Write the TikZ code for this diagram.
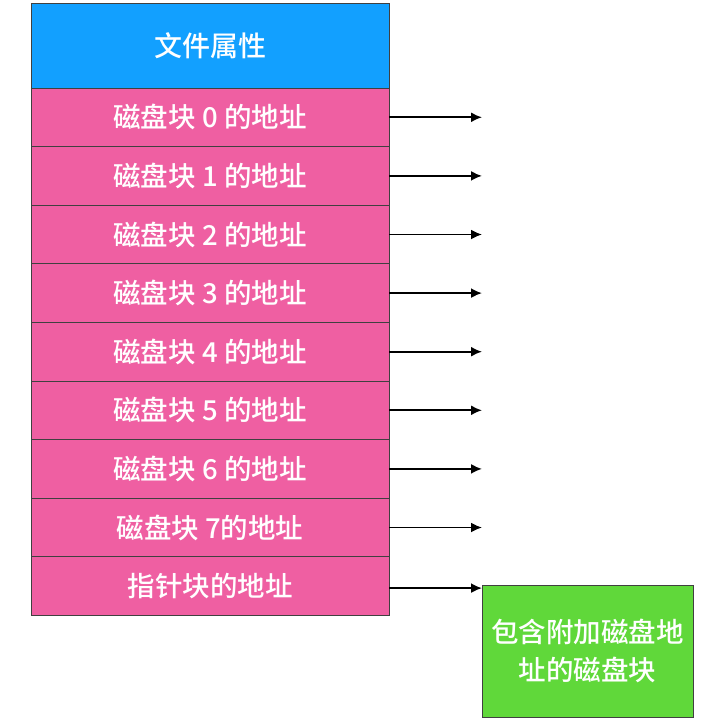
\documentclass[tikz,border=0pt]{standalone}
\usepackage{fontspec}
\setmainfont{Noto Sans CJK SC}[UprightFont=* Medium]
\usetikzlibrary{positioning,arrows.meta}
\definecolor{attrblue}{RGB}{18,160,255}
\definecolor{diskpink}{RGB}{239,95,162}
\definecolor{extragreen}{RGB}{96,216,58}

\begin{document}
\begin{tikzpicture}
		[x=1pt,y=-1pt,
		cell/.style={draw=black!75,line width=0.8pt,fill=diskpink,text=white,
			minimum width=358pt,minimum height=58.6pt,inner sep=0pt,outer sep=0pt,
			font=\fontsize{27.5}{30}\selectfont},
		ptr/.style={-{Latex[length=11pt,width=10pt]},line width=1.8pt}]
		\useasboundingbox (0,0) rectangle (706,720);
		% inode table
		\node[cell,fill=attrblue,minimum height=85pt,anchor=north west,
			font=\fontsize{28}{30}\selectfont] (attr) at (31,3) {文件属性};
		\node[cell,below=0pt of attr] (blk0) {磁盘块 0 的地址};
		\node[cell,below=0pt of blk0] (blk1) {磁盘块 1 的地址};
		\node[cell,below=0pt of blk1] (blk2) {磁盘块 2 的地址};
		\node[cell,below=0pt of blk2] (blk3) {磁盘块 3 的地址};
		\node[cell,below=0pt of blk3] (blk4) {磁盘块 4 的地址};
		\node[cell,below=0pt of blk4] (blk5) {磁盘块 5 的地址};
		\node[cell,below=0pt of blk5] (blk6) {磁盘块 6 的地址};
		\node[cell,below=0pt of blk6] (blk7) {磁盘块 7的地址};
		\node[cell,below=0pt of blk7] (ptrblk) {指针块的地址};
		% extra block
		\node[draw=black!75,line width=0.8pt,fill=extragreen,text=white,
			minimum width=211pt,minimum height=132pt,inner sep=0pt,outer sep=0pt,
			align=center,anchor=north west,
			font=\fontsize{27.5}{38}\selectfont] (extra) at (482,585)
			{包含附加磁盘地\\址的磁盘块};
		% pointers
		\foreach \n in {0,...,7}{
			\coordinate[right=93pt of blk\n.east] (end\n);
			\draw[ptr] (blk\n.east) -- (end\n);
		}
		\draw[ptr] ([yshift=-2pt]ptrblk.east) -- ([yshift=-2pt]ptrblk.east -| extra.west);
	\end{tikzpicture}
\end{document}
